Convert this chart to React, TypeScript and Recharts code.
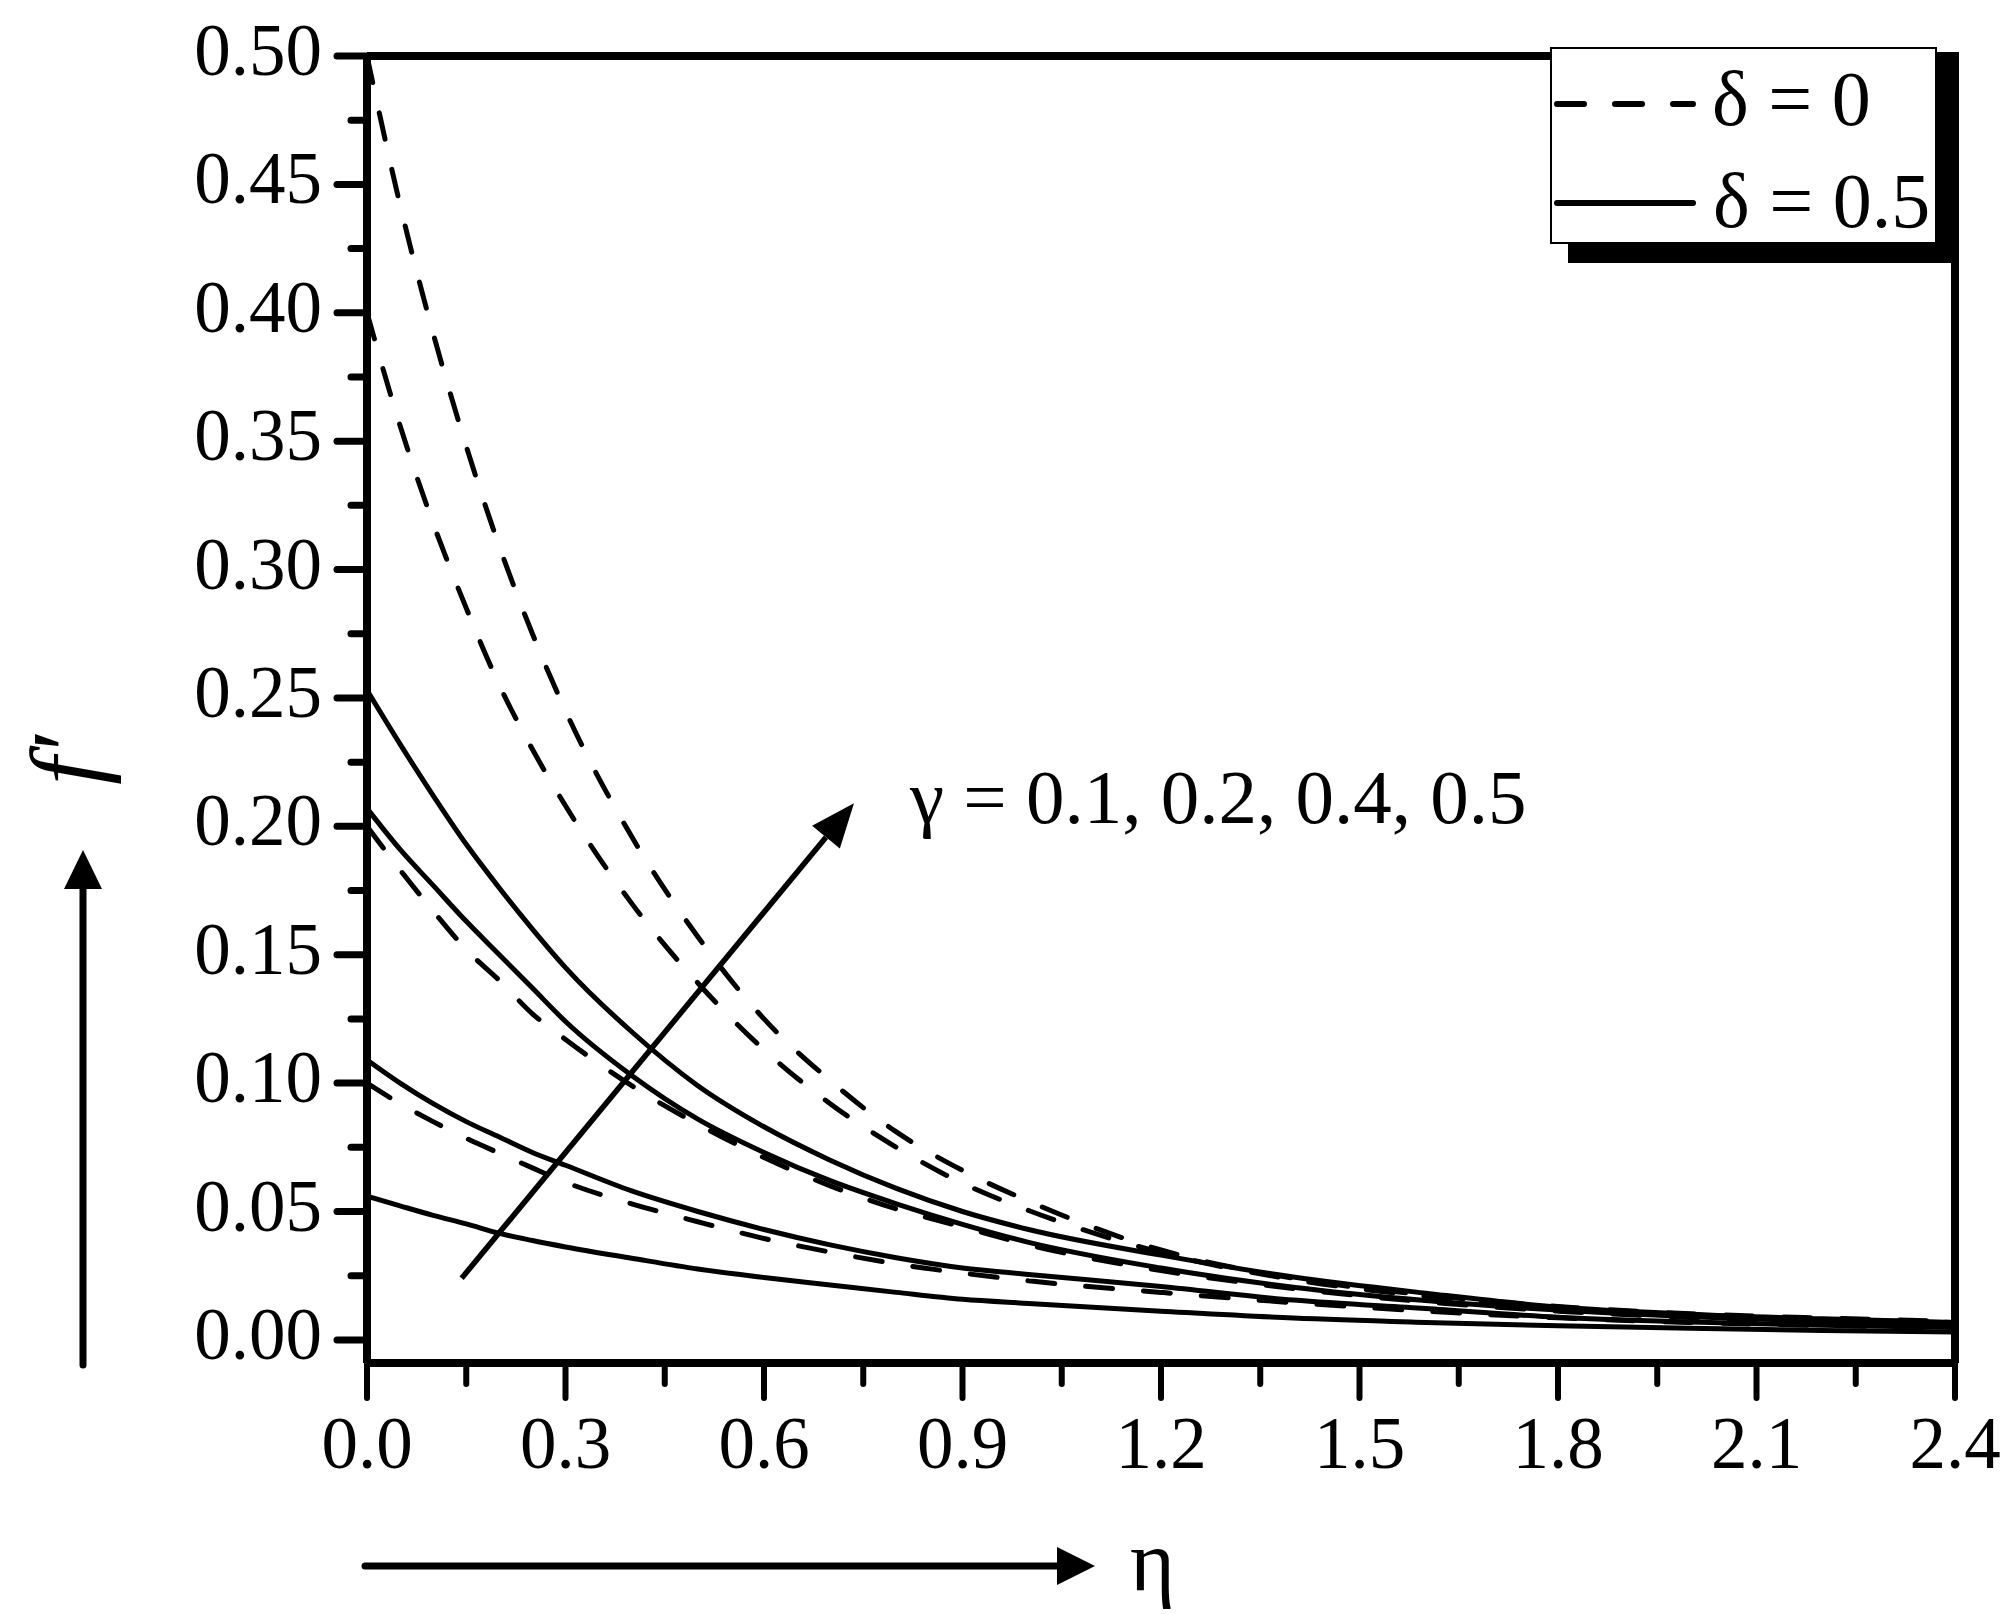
import { Line, LineChart, ReferenceLine, XAxis, YAxis } from 'recharts';

// eta grid and f' values
const eta = [0, 0.05, 0.1, 0.15, 0.2, 0.25, 0.3, 0.4, 0.5, 0.6, 0.7, 0.8, 0.9, 1.0, 1.2, 1.4, 1.6, 1.8, 2.0, 2.2, 2.4];

// delta = 0 (dashed)
const dashG05 = [0.5, 0.442, 0.392, 0.348, 0.309, 0.275, 0.245, 0.196, 0.157, 0.125, 0.101, 0.081, 0.066, 0.054, 0.035, 0.024, 0.0175, 0.013, 0.0102, 0.0085, 0.0072];
const dashG04 = [0.4, 0.356, 0.318, 0.285, 0.255, 0.23, 0.208, 0.17, 0.139, 0.113, 0.092, 0.075, 0.061, 0.0504, 0.034, 0.0235, 0.017, 0.0125, 0.0097, 0.008, 0.0068];
const dashG02 = [0.2, 0.183, 0.167, 0.152, 0.14, 0.127, 0.117, 0.099, 0.084, 0.071, 0.06, 0.051, 0.044, 0.037, 0.027, 0.02, 0.0148, 0.0112, 0.0087, 0.007, 0.0058];
const dashG01 = [0.1, 0.092, 0.085, 0.0785, 0.0727, 0.067, 0.0614, 0.053, 0.046, 0.0395, 0.0342, 0.0296, 0.026, 0.023, 0.0185, 0.0145, 0.0112, 0.0086, 0.0068, 0.0056, 0.0047];

// delta = 0.5 (solid)
const solidG05 = [0.253, 0.232, 0.212, 0.193, 0.176, 0.16, 0.145, 0.12, 0.099, 0.083, 0.07, 0.059, 0.05, 0.043, 0.033, 0.0245, 0.0182, 0.0128, 0.01, 0.0082, 0.0068];
const solidG04 = [0.207, 0.191, 0.177, 0.163, 0.15, 0.137, 0.124, 0.103, 0.086, 0.073, 0.062, 0.053, 0.045, 0.038, 0.028, 0.0205, 0.0153, 0.0116, 0.009, 0.0073, 0.006];
const solidG02 = [0.109, 0.1, 0.092, 0.085, 0.079, 0.073, 0.068, 0.058, 0.05, 0.043, 0.037, 0.032, 0.028, 0.0255, 0.0208, 0.0155, 0.0122, 0.0088, 0.007, 0.0057, 0.0048];
const solidG01 = [0.056, 0.0522, 0.0485, 0.0452, 0.0415, 0.0387, 0.0362, 0.0318, 0.0276, 0.0243, 0.0214, 0.0185, 0.0158, 0.0142, 0.0112, 0.0085, 0.0068, 0.0055, 0.0045, 0.0037, 0.0031];

const xTicks = [0, 0.15, 0.3, 0.45, 0.6, 0.75, 0.9, 1.05, 1.2, 1.35, 1.5, 1.65, 1.8, 1.95, 2.1, 2.25, 2.4];
const yTicks = [0, 0.025, 0.05, 0.075, 0.1, 0.125, 0.15, 0.175, 0.2, 0.225, 0.25, 0.275, 0.3, 0.325, 0.35, 0.375, 0.4, 0.425, 0.45, 0.475, 0.5];

const gammaLabel = 'γ = 0.1, 0.2, 0.4, 0.5';
const legendDashed = 'δ = 0';
const legendSolid = 'δ = 0.5';

const rows = eta.map((e, i) => ({
    eta: e,
    d05: dashG05[i],
    d04: dashG04[i],
    d02: dashG02[i],
    d01: dashG01[i],
    s05: solidG05[i],
    s04: solidG04[i],
    s02: solidG02[i],
    s01: solidG01[i],
}));

const W = 2010;
const H = 1614;
const LEFT = 367;
const TOP = 56;
const RIGHT = 1955;
const BOTTOM = 1363;
const Y_AXIS_W = 120;
const X_AXIS_H = 120;
const EDGE = 10; // size given to the tickless top / right frame axes
const FONT = "'Liberation Serif', 'Times New Roman', serif";
const DASH = '27 31';

const renderYTick = (props: any) => {
    const { y, payload } = props;
    const v = payload.value as number;
    const major = Math.round(v * 1000) % 50 === 0;
    return (
        <g>
            <line x1={LEFT - (major ? 30 : 16)} x2={LEFT} y1={y} y2={y} stroke="#000" strokeWidth={7} strokeLinecap="round" />
            {major && (
                <text x={322} y={y + 19} textAnchor="end" fontFamily={FONT} fontSize={73} fill="#000">
                    {v.toFixed(2)}
                </text>
            )}
        </g>
    );
};

const renderXTick = (props: any) => {
    const { x, payload } = props;
    const v = payload.value as number;
    const major = Math.round(v * 100) % 30 === 0;
    return (
        <g>
            <line x1={x} x2={x} y1={BOTTOM} y2={BOTTOM + (major ? 35 : 21)} stroke="#000" strokeWidth={6} strokeLinecap="round" />
            {major && (
                <text x={x} y={1468} textAnchor="middle" fontFamily={FONT} fontSize={73} fill="#000">
                    {v.toFixed(1)}
                </text>
            )}
        </g>
    );
};

const gammaArrow = (p: any) => {
    const { x1, y1, x2, y2 } = p;
    const ang = Math.atan2(y2 - y1, x2 - x1);
    const len = 44;
    const half = 18;
    const bx = x2 - len * Math.cos(ang);
    const by = y2 - len * Math.sin(ang);
    const nx = -Math.sin(ang);
    const ny = Math.cos(ang);
    return (
        <g>
            <line x1={x1} y1={y1} x2={bx} y2={by} stroke="#000" strokeWidth={5.5} />
            <polygon
                points={`${x2},${y2} ${bx + nx * half},${by + ny * half} ${bx - nx * half},${by - ny * half}`}
                fill="#000"
            />
        </g>
    );
};

const lineProps = {
    type: 'monotone' as const,
    stroke: '#000',
    strokeWidth: 5,
    dot: false,
    isAnimationActive: false,
    activeDot: false,
};

const frameLine = { stroke: '#000', strokeWidth: 8 };

export default function App() {
    return (
        <div style={{ position: 'absolute', left: 0, top: 0, width: W, height: H, background: '#fff', overflow: 'hidden' }}>
            <LineChart
                width={W}
                height={H}
                data={rows}
                margin={{
                    top: TOP - EDGE,
                    right: W - RIGHT - EDGE,
                    bottom: H - BOTTOM - X_AXIS_H,
                    left: LEFT - Y_AXIS_W,
                }}>
                <XAxis
                    dataKey="eta"
                    type="number"
                    domain={[0, 2.4]}
                    ticks={xTicks}
                    interval={0}
                    height={X_AXIS_H}
                    allowDataOverflow
                    axisLine={frameLine}
                    tickLine={false}
                    tick={renderXTick}
                />
                <XAxis
                    xAxisId="top"
                    orientation="top"
                    type="number"
                    domain={[0, 2.4]}
                    height={EDGE}
                    axisLine={frameLine}
                    tickLine={false}
                    tick={false}
                />
                <YAxis
                    type="number"
                    domain={[-0.009, 0.5]}
                    ticks={yTicks}
                    interval={0}
                    width={Y_AXIS_W}
                    allowDataOverflow
                    axisLine={frameLine}
                    tickLine={false}
                    tick={renderYTick}
                />
                <YAxis
                    yAxisId="right"
                    orientation="right"
                    type="number"
                    domain={[-0.009, 0.5]}
                    width={EDGE}
                    axisLine={frameLine}
                    tickLine={false}
                    tick={false}
                />

                <Line {...lineProps} dataKey="d05" strokeDasharray={DASH} strokeLinecap="round" />
                <Line {...lineProps} dataKey="d04" strokeDasharray={DASH} strokeLinecap="round" />
                <Line {...lineProps} dataKey="d02" strokeDasharray={DASH} strokeLinecap="round" />
                <Line {...lineProps} dataKey="d01" strokeDasharray={DASH} strokeLinecap="round" />
                <Line {...lineProps} dataKey="s05" />
                <Line {...lineProps} dataKey="s04" />
                <Line {...lineProps} dataKey="s02" />
                <Line {...lineProps} dataKey="s01" />

                <ReferenceLine
                    segment={[
                        { x: 0.143, y: 0.024 },
                        { x: 0.736, y: 0.209 },
                    ]}
                    shape={gammaArrow}
                />
            </LineChart>

            <svg width={W} height={H} style={{ position: 'absolute', left: 0, top: 0, pointerEvents: 'none' }}>
                {/* legend with drop shadow */}
                <rect x={1568} y={52} width={RIGHT + 4 - 1568} height={263 - 52} fill="#000" />
                <rect x={1551} y={48} width={385} height={195} fill="#fff" stroke="#000" strokeWidth={2} />
                <line x1={1557} x2={1693} y1={104} y2={104} stroke="#000" strokeWidth={6} strokeDasharray={DASH} strokeLinecap="round" />
                <text x={1712} y={125} fontFamily={FONT} fontSize={78}>{legendDashed}</text>
                <line x1={1557} x2={1693} y1={203} y2={203} stroke="#000" strokeWidth={6} strokeLinecap="round" />
                <text x={1713} y={227} fontFamily={FONT} fontSize={78}>{legendSolid}</text>

                {/* annotation */}
                <text x={910} y={823} fontFamily={FONT} fontSize={77}>{gammaLabel}</text>

                {/* y label with arrow */}
                <line x1={83} x2={83} y1={1365} y2={880} stroke="#000" strokeWidth={7} strokeLinecap="round" />
                <polygon points="83,850 64,889 102,889" fill="#000" />
                <text
                    x={0}
                    y={0}
                    transform="translate(100,760) rotate(-90)"
                    textAnchor="middle"
                    fontFamily={FONT}
                    fontStyle="italic"
                    fontSize={100}>
                    f′
                </text>

                {/* x label with arrow */}
                <line x1={365} x2={1062} y1={1566} y2={1566} stroke="#000" strokeWidth={7} strokeLinecap="round" />
                <polygon points="1095,1566 1057,1547 1057,1585" fill="#000" />
                <text x={1130} y={1590} fontFamily={FONT} fontSize={86}>η</text>
            </svg>
        </div>
    );
}
